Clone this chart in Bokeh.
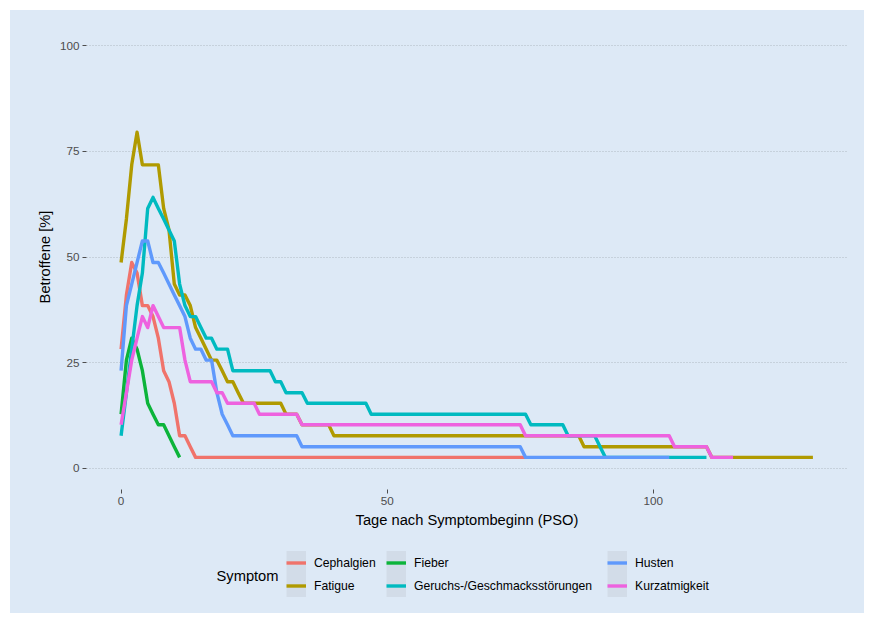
import numpy as np
from bokeh.plotting import figure
from bokeh.layouts import column
from bokeh.models import Range1d, Legend, LegendItem, Label, FixedTicker
from bokeh.embed import file_html
from bokeh.resources import INLINE

BG = "#dde9f6"
KEY_BG = "#d2dce8"
FONT = "Liberation Sans"

symptoms = ["Cephalgien", "Fatigue", "Fieber", "Geruchs-/Geschmacksstörungen", "Husten", "Kurzatmigkeit"]
colors = ["#F0736B", "#B09A00", "#0CB43A", "#00BAC0", "#5F99FC", "#EE62DF"]

ceph_days = [0, 1, 2, 3, 4, 5, 6, 7, 8, 9, 10, 11, 12, 13, 14, 76]
ceph_pct = [28.2, 41.0, 48.7, 46.2, 38.5, 38.5, 35.9, 30.8, 23.1, 20.5, 15.4, 7.7, 7.7, 5.1, 2.6, 2.6]

fat_days = [0, 1, 2, 3, 4, 5, 6, 7, 8, 9, 10, 11, 12, 13, 14, 15, 16, 17, 18, 19, 20, 21, 22, 23,
            30, 31, 33, 34, 39, 40, 86, 87, 110, 111, 130]
fat_pct = [48.7, 59.0, 71.8, 79.5, 71.8, 71.8, 71.8, 71.8, 61.5, 56.4, 43.6, 41.0, 41.0, 38.5, 33.3,
           30.8, 28.2, 25.6, 25.6, 23.1, 20.5, 20.5, 17.9, 15.4,
           15.4, 12.8, 12.8, 10.3, 10.3, 7.7, 7.7, 5.1, 5.1, 2.6, 2.6]

fie_days = [0, 1, 2, 3, 4, 5, 6, 7, 8, 9, 10, 11]
fie_pct = [12.8, 25.6, 30.8, 28.2, 23.1, 15.4, 12.8, 10.3, 10.3, 7.7, 5.1, 2.6]

ger_days = [0, 1, 2, 3, 4, 5, 6, 7, 8, 9, 10, 11, 12, 13, 14, 15, 16, 17, 18, 20, 21, 28, 29, 30,
            31, 34, 35, 46, 47, 76, 77, 83, 84, 89, 90, 91, 110]
ger_pct = [7.7, 17.9, 28.2, 38.5, 46.2, 61.5, 64.1, 61.5, 59.0, 56.4, 53.8, 43.6, 38.5, 35.9, 35.9,
           33.3, 30.8, 30.8, 28.2, 28.2, 23.1, 23.1, 20.5, 20.5,
           17.9, 17.9, 15.4, 15.4, 12.8, 12.8, 10.3, 10.3, 7.7, 7.7, 5.1, 2.6, 2.6]

hus_days = [0, 1, 2, 3, 4, 5, 6, 7, 8, 9, 10, 11, 12, 13, 14, 15, 16, 17, 18, 19, 20, 21,
            33, 34, 75, 76, 103]
hus_pct = [23.1, 38.5, 43.6, 48.7, 53.8, 53.8, 48.7, 48.7, 46.2, 43.6, 41.0, 38.5, 35.9, 30.8, 28.2,
           28.2, 25.6, 25.6, 17.9, 12.8, 10.3, 7.7,
           7.7, 5.1, 5.1, 2.6, 2.6]

kur_days = [0, 1, 2, 3, 4, 5, 6, 7, 8, 11, 12, 13, 17, 18, 19, 20, 25, 26, 33, 34, 75, 76,
            103, 104, 110, 111, 115]
kur_pct = [10.3, 17.9, 25.6, 30.8, 35.9, 33.3, 38.5, 35.9, 33.3, 33.3, 25.6, 20.5, 20.5, 17.9, 17.9,
           15.4, 15.4, 12.8, 12.8, 10.3, 10.3, 7.7,
           7.7, 5.1, 5.1, 2.6, 2.6]

series_days = [ceph_days, fat_days, fie_days, ger_days, hus_days, kur_days]
series_pct = [ceph_pct, fat_pct, fie_pct, ger_pct, hus_pct, kur_pct]

x_ticks = [0, 50, 100]
y_ticks = [0, 25, 50, 75, 100]

W = 854
p = figure(width=W, height=535, output_backend="svg", toolbar_location=None,
           x_range=Range1d(-6.5, 136.5), y_range=Range1d(-5, 105),
           background_fill_color=BG, border_fill_color=BG,
           min_border_left=76, min_border_right=17, min_border_top=14, min_border_bottom=56)
p.outline_line_color = None
p.xgrid.grid_line_color = None
p.ygrid.grid_line_color = "#aeb8c3"
p.ygrid.grid_line_dash = "1 2"
p.ygrid.grid_line_width = 1

p.xaxis.ticker = FixedTicker(ticks=x_ticks)
p.yaxis.ticker = FixedTicker(ticks=y_ticks)
p.xaxis.axis_label = "Tage nach Symptombeginn (PSO)"
p.yaxis.axis_label = "Betroffene [%]"
for ax in (p.xaxis[0], p.yaxis[0]):
    ax.axis_line_color = None
    ax.major_tick_line_color = "#4d4d4d"
    ax.major_tick_out = 4
    ax.major_tick_in = 0
    ax.minor_tick_line_color = None
    ax.major_label_text_font = FONT
    ax.major_label_text_font_size = "11.7px"
    ax.major_label_text_color = "#4d4d4d"
    ax.major_label_standoff = 3
    ax.axis_label_text_font = FONT
    ax.axis_label_text_font_size = "14.7px"
    ax.axis_label_text_font_style = "normal"
    ax.axis_label_text_color = "black"
    ax.axis_label_standoff = 4

for days, pct, c in zip(series_days, series_pct, colors):
    p.line(days, pct, line_width=3.4, line_color=c, line_join="round")

# legend panel below the chart (frame aligned with the chart's frame)
lp = figure(width=W, height=68, output_backend="svg", toolbar_location=None,
            x_range=Range1d(0, 1), y_range=Range1d(0, 1),
            background_fill_color=None, border_fill_color=BG,
            min_border_left=76, min_border_right=17, min_border_top=0, min_border_bottom=0)
lp.outline_line_color = None
lp.xaxis.visible = False
lp.yaxis.visible = False
lp.xgrid.visible = False
lp.ygrid.visible = False

nan = np.array([np.nan])
bg_r = lp.line(x=nan, y=nan, line_width=24, line_color=KEY_BG)
key_r = [lp.line(x=nan, y=nan, line_width=3.4, line_color=c) for c in colors]

col_x = [200, 300, 521]
for ci in range(3):
    items = [LegendItem(label=symptoms[2 * ci + k], renderers=[bg_r, key_r[2 * ci + k]])
             for k in range(2)]
    lg = Legend(items=items, location=(col_x[ci], 16), orientation="vertical",
                glyph_width=20, glyph_height=23, label_height=23, spacing=0,
                padding=0, margin=0, label_standoff=8,
                label_text_font=FONT, label_text_font_size="12.2px", label_text_color="black",
                background_fill_alpha=0, border_line_color=None)
    lp.add_layout(lg, "center")

title = Label(x=130, y=38, x_units="screen", y_units="screen", text="Symptom",
              text_font=FONT, text_font_size="14.7px", text_color="black",
              text_baseline="middle")
lp.add_layout(title)

layout = column(p, lp, spacing=0, margin=(10, 0, 0, 10), styles={"background-color": BG})
open("out.html", "w").write(file_html(layout, INLINE))
